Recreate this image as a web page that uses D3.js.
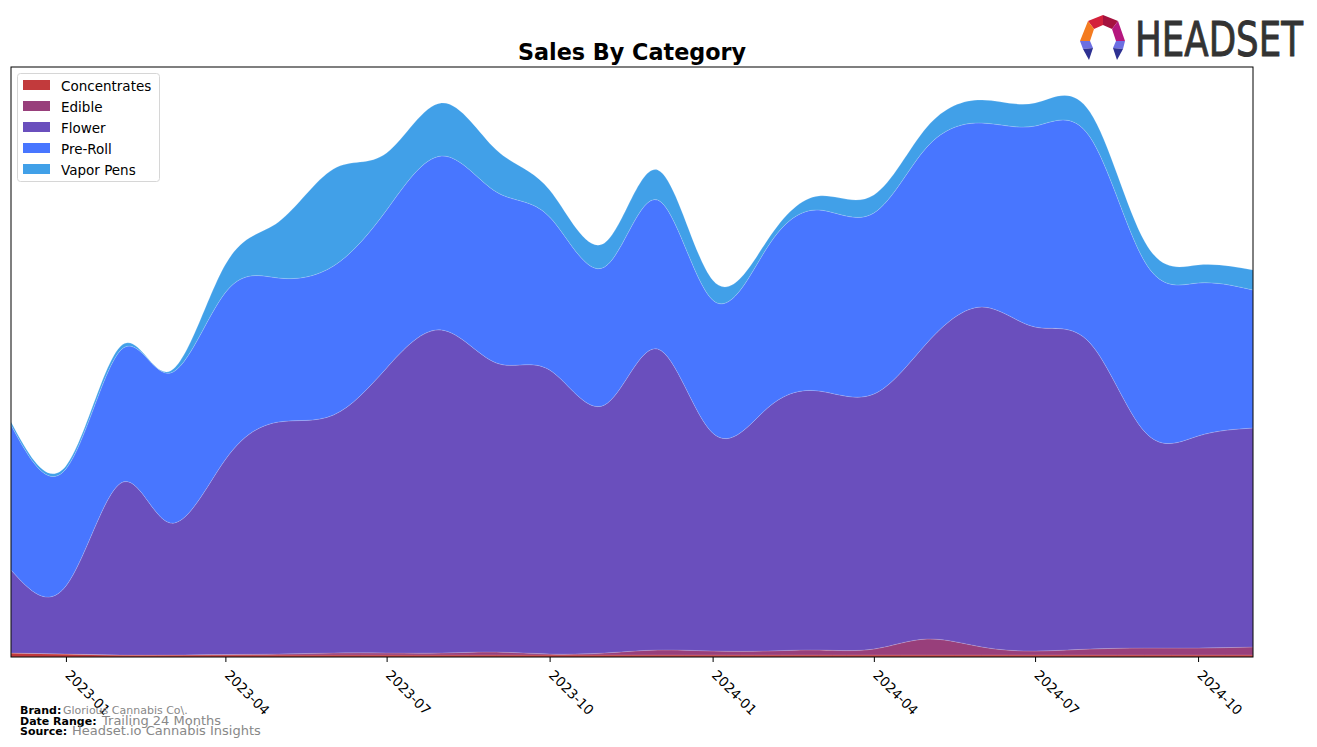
<!DOCTYPE html>
<html>
<head>
<meta charset="utf-8">
<script src="https://cdn.jsdelivr.net/npm/d3@7"></script>
<style>
  body { margin: 0; background: #fff; }
  svg { display: block; }
  text { font-family: "DejaVu Sans", sans-serif; }
</style>
</head>
<body>
<svg id="chart" width="1317" height="747"></svg>
<script>
// ---- Data (monthly) ----
const months = ["2022-12","2023-01","2023-02","2023-03","2023-04","2023-05","2023-06","2023-07","2023-08","2023-09","2023-10","2023-11","2023-12","2024-01","2024-02","2024-03","2024-04","2024-05","2024-06","2024-07","2024-08","2024-09","2024-10","2024-11"];
const categories = ["Concentrates","Edible","Flower","Pre-Roll","Vapor Pens"];
const concentrates = [4,3,2,2,2,2,2,2,2,2,2,2,2,2,2,2,2,2,2,2,2,2,2,2];
const edible       = [0,0,0,0,0.5,1,2,2,2,3,1,2,5,4,4,5,6,16,8,4,6,7,7,8];
const flower       = [83,68,172,132,195,232,238,285,323,289,284,248,301,218,243,259,255,296,340,324,306,216,212,219];
const preRoll      = [145,117,133,150,167,144,149,158,174,171,153,138,149,133,161,181,181,196,184,201,206,170,153,138];
const vaporPens    = [3,3,4,2,28,56,97,57,53,42,27,24,30,20,7,14,18,20,23,23,25,20,18,20];
const tickLabels   = ["2023-01","2023-04","2023-07","2023-10","2024-01","2024-04","2024-07","2024-10"];
const colors = ["#C23A3C","#983F7B","#6A4FBD","#4876FF","#41A0E8"];

const parse = d3.timeParse("%Y-%m");
const rows = months.map((m, i) => ({
  date: parse(m),
  "Concentrates": concentrates[i],
  "Edible": edible[i],
  "Flower": flower[i],
  "Pre-Roll": preRoll[i],
  "Vapor Pens": vaporPens[i]
}));

const svg = d3.select("#chart");
const L = 11, R = 1253, T = 67, B = 657;

const x = d3.scaleTime().domain([parse("2022-12"), parse("2024-11")]).range([L, R]);
const y = d3.scaleLinear().domain([0, 590]).range([B, T]);

const series = d3.stack().keys(categories)(rows);

svg.append("defs").append("clipPath").attr("id", "plotclip")
  .append("rect").attr("x", L).attr("y", T).attr("width", R - L).attr("height", B - T);

const area = d3.area()
  .x(d => x(d.data.date))
  .y0(d => y(d[0]))
  .y1(d => y(d[1]))
  .curve(d3.curveNatural);

svg.append("g").attr("clip-path", "url(#plotclip)")
  .selectAll("path").data(series).join("path")
  .attr("d", area)
  .attr("fill", (d, i) => colors[i])
  .attr("stroke", "rgba(255,255,255,0.25)")
  .attr("stroke-width", 0.6);

// frame
svg.append("rect").attr("x", L).attr("y", T).attr("width", R - L).attr("height", B - T)
  .attr("fill", "none").attr("stroke", "#000").attr("stroke-width", 1);

// x axis
const tickDates = tickLabels.map(parse);
const xAxis = d3.axisBottom(x).tickValues(tickDates).tickSize(5).tickFormat(d3.timeFormat("%Y-%m"));
const gx = svg.append("g").attr("transform", `translate(0,${B})`).call(xAxis);
gx.select(".domain").remove();
gx.selectAll(".tick line").attr("stroke", "#000");
gx.selectAll(".tick text")
  .attr("font-size", 13.5)
  .attr("fill", "#000")
  .attr("text-anchor", "start")
  .attr("dy", null)
  .attr("x", 0).attr("y", 0)
  .attr("transform", "translate(-2,19) rotate(45)");

// title
svg.append("text").attr("x", (L + R) / 2).attr("y", 60).attr("text-anchor", "middle")
  .attr("font-size", 22.3).attr("font-weight", "bold").text("Sales By Category");

// legend
const lg = svg.append("g");
lg.append("rect").attr("x", 17.5).attr("y", 73.5).attr("width", 142).attr("height", 108)
  .attr("rx", 3).attr("fill", "#fff").attr("fill-opacity", 0.8).attr("stroke", "#d6d6d6");
categories.forEach((c, i) => {
  const yy = 86 + i * 21;
  lg.append("rect").attr("x", 23).attr("y", yy - 6).attr("width", 27).attr("height", 10).attr("fill", colors[i]);
  lg.append("text").attr("x", 61).attr("y", yy + 5).attr("font-size", 13.5).attr("fill", "#000").text(c);
});

// footer
const foot = [
  ["Brand:", "Glorious Cannabis Co\\.", 63, 11, 714],
  ["Date Range:", "Trailing 24 Months", 102, 13, 725],
  ["Source:", "Headset.io Cannabis Insights", 72, 13, 735]
];
foot.forEach(f => {
  svg.append("text").attr("x", 20).attr("y", f[4]).attr("font-size", 11).attr("font-weight", "bold").text(f[0]);
  svg.append("text").attr("x", f[2]).attr("y", f[4]).attr("font-size", f[3]).attr("fill", "#888").text(f[1]);
});

// logo
const logo = svg.append("g");
const poly = (pts, fill) => logo.append("polygon").attr("points", pts.map(p => p.join(",")).join(" ")).attr("fill", fill);
poly([[1088,21],[1103,15],[1103,25],[1094,29]], "#D4213B");
poly([[1103,15],[1118,21],[1112,29],[1103,25]], "#A5123F");
poly([[1088,21],[1094,29],[1090,41],[1080,41]], "#F47B20");
poly([[1118,21],[1125,41],[1116,41],[1112,29]], "#B5177E");
poly([[1080,41],[1090,41],[1093,48],[1083,49]], "#6C6FE2");
poly([[1083,49],[1093,48],[1089,60]], "#2E3192");
poly([[1125,41],[1116,41],[1113,48],[1123,49]], "#6C6FE2");
poly([[1123,49],[1113,48],[1117,60]], "#2E3192");
svg.append("text")
  .attr("transform", "translate(1135,56) scale(1,1.62)")
  .attr("font-size", 30)
  .attr("font-family", "'Liberation Sans Narrow','DejaVu Sans Condensed',sans-serif")
  .attr("textLength", 168).attr("lengthAdjust", "spacingAndGlyphs")
  .attr("fill", "#333").attr("stroke", "#333").attr("stroke-width", 0.6)
  .text("HEADSET");
</script>
</body>
</html>
